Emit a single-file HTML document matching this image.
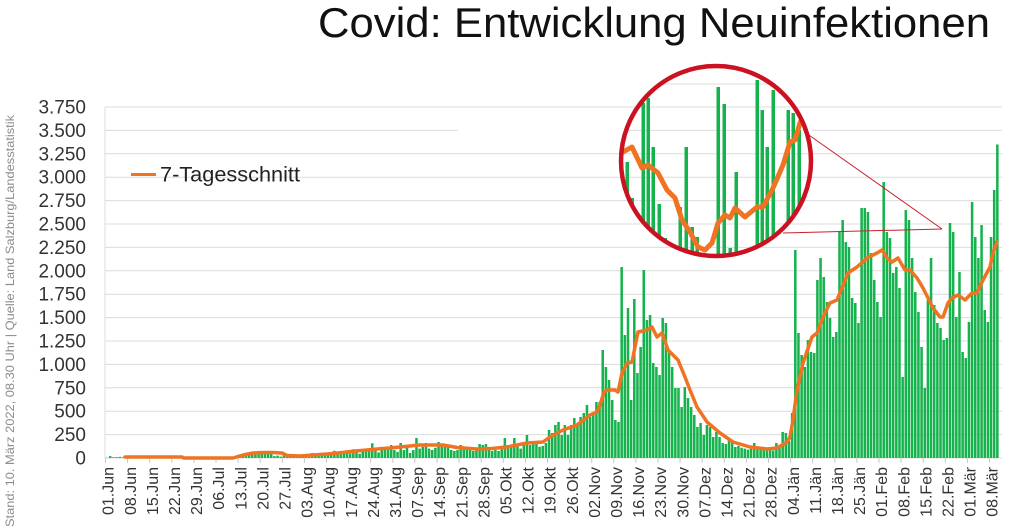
<!DOCTYPE html>
<html><head><meta charset="utf-8"><style>
html,body{margin:0;padding:0;background:#fff;}
svg{display:block;}
</style></head><body>
<svg width="1016" height="530" viewBox="0 0 1016 530" xmlns="http://www.w3.org/2000/svg">
<rect width="1016" height="530" fill="#fff"/>
<!-- title -->
<text x="318" y="37" font-family="Liberation Sans, sans-serif" font-size="42" fill="#111" textLength="672" lengthAdjust="spacingAndGlyphs">Covid: Entwicklung Neuinfektionen</text>
<!-- source vertical -->
<text transform="translate(14,527) rotate(-90)" font-family="Liberation Sans, sans-serif" font-size="12" fill="#8c8c8c" textLength="412" lengthAdjust="spacingAndGlyphs">Stand: 10. März  2022, 08.30 Uhr  |  Quelle: Land Salzburg/Landesstatistik</text>
<!-- gridlines -->
<g stroke="#dcdcdc" stroke-width="1">
<line x1="105" y1="107" x2="1002" y2="107"/>
<line x1="105" y1="130.4" x2="458" y2="130.4"/>
<line x1="812" y1="130.4" x2="1002" y2="130.4"/>
<line x1="105" y1="153.8" x2="1002" y2="153.8"/>
<line x1="105" y1="177.2" x2="1002" y2="177.2"/>
<line x1="105" y1="200.6" x2="1002" y2="200.6"/>
<line x1="105" y1="224" x2="1002" y2="224"/>
<line x1="105" y1="247.4" x2="1002" y2="247.4"/>
<line x1="105" y1="270.8" x2="1002" y2="270.8"/>
<line x1="105" y1="294.2" x2="1002" y2="294.2"/>
<line x1="105" y1="317.6" x2="1002" y2="317.6"/>
<line x1="105" y1="341" x2="1002" y2="341"/>
<line x1="105" y1="364.4" x2="1002" y2="364.4"/>
<line x1="105" y1="387.8" x2="1002" y2="387.8"/>
<line x1="105" y1="411.2" x2="1002" y2="411.2"/>
<line x1="105" y1="434.6" x2="1002" y2="434.6"/>
<line x1="105" y1="458" x2="1002" y2="458"/>
<line x1="105" y1="107" x2="105" y2="458"/>
</g>
<!-- y labels -->
<g font-family="Liberation Sans, sans-serif" font-size="19" fill="#333" text-anchor="end">
<text x="86" y="113.5">3.750</text>
<text x="86" y="136.9">3.500</text>
<text x="86" y="160.3">3.250</text>
<text x="86" y="183.7">3.000</text>
<text x="86" y="207.1">2.750</text>
<text x="86" y="230.5">2.500</text>
<text x="86" y="253.9">2.250</text>
<text x="86" y="277.3">2.000</text>
<text x="86" y="300.7">1.750</text>
<text x="86" y="324.1">1.500</text>
<text x="86" y="347.5">1.250</text>
<text x="86" y="370.9">1.000</text>
<text x="86" y="394.3">750</text>
<text x="86" y="417.7">500</text>
<text x="86" y="441.1">250</text>
<text x="86" y="464.5">0</text>
</g>
<!-- ticks -->
<path stroke="#c8c8c8" stroke-width="1" fill="none" d="M105.5 458v5M127.6 458v5M149.7 458v5M171.8 458v5M193.9 458v5M216 458v5M238.1 458v5M260.2 458v5M282.3 458v5M304.4 458v5M326.5 458v5M348.6 458v5M370.7 458v5M392.8 458v5M414.9 458v5M437 458v5M459.1 458v5M481.2 458v5M503.3 458v5M525.4 458v5M547.5 458v5M569.6 458v5M591.7 458v5M613.8 458v5M635.9 458v5M658 458v5M680.1 458v5M702.2 458v5M724.3 458v5M746.4 458v5M768.5 458v5M790.6 458v5M812.7 458v5M834.8 458v5M856.9 458v5M879 458v5M901.1 458v5M923.2 458v5M945.3 458v5M967.4 458v5M989.5 458v5"/>
<!-- bars -->
<g transform="translate(105.5,458) scale(3.157,-0.0936)">
<path fill="#16b24d" d="M0.1 0V3h.8V0zM1.1 0V20h.8V0zM2.1 0V8h.8V0zM3.1 0V10h.8V0zM4.1 0V12h.8V0zM5.1 0V8h.8V0zM6.1 0V6h.8V0zM7.1 0V10h.8V0zM8.1 0V12h.8V0zM9.1 0V8h.8V0zM10.1 0V10h.8V0zM11.1 0V14h.8V0zM12.1 0V9h.8V0zM13.1 0V7h.8V0zM14.1 0V12h.8V0zM15.1 0V15h.8V0zM16.1 0V10h.8V0zM17.1 0V8h.8V0zM18.1 0V12h.8V0zM19.1 0V9h.8V0zM20.1 0V6h.8V0zM21.1 0V8h.8V0zM22.1 0V5h.8V0zM23.1 0V4h.8V0zM24.1 0V3h.8V0zM25.1 0V5h.8V0zM26.1 0V4h.8V0zM27.1 0V3h.8V0zM28.1 0V3h.8V0zM29.1 0V4h.8V0zM30.1 0V3h.8V0zM31.1 0V4h.8V0zM32.1 0V3h.8V0zM33.1 0V2h.8V0zM34.1 0V3h.8V0zM35.1 0V4h.8V0zM36.1 0V3h.8V0zM37.1 0V5h.8V0zM38.1 0V6h.8V0zM39.1 0V8h.8V0zM40.1 0V10h.8V0zM41.1 0V12h.8V0zM42.1 0V15h.8V0zM43.1 0V25h.8V0zM44.1 0V40h.8V0zM45.1 0V45h.8V0zM46.1 0V43h.8V0zM47.1 0V50h.8V0zM48.1 0V64h.8V0zM49.1 0V55h.8V0zM50.1 0V68h.8V0zM51.1 0V60h.8V0zM52.1 0V45h.8V0zM53.1 0V20h.8V0zM54.1 0V25h.8V0zM55.1 0V15h.8V0zM56.1 0V30h.8V0zM57.1 0V25h.8V0zM58.1 0V20h.8V0zM59.1 0V15h.8V0zM60.1 0V25h.8V0zM61.1 0V20h.8V0zM62.1 0V30h.8V0zM63.1 0V25h.8V0zM64.1 0V35h.8V0zM65.1 0V53h.8V0zM66.1 0V30h.8V0zM67.1 0V25h.8V0zM68.1 0V40h.8V0zM69.1 0V45h.8V0zM70.1 0V35h.8V0zM71.1 0V50h.8V0zM72.1 0V78h.8V0zM73.1 0V45h.8V0zM74.1 0V40h.8V0zM75.1 0V60h.8V0zM76.1 0V55h.8V0zM77.1 0V50h.8V0zM78.1 0V93h.8V0zM79.1 0V60h.8V0zM80.1 0V45h.8V0zM81.1 0V70h.8V0zM82.1 0V85h.8V0zM83.1 0V90h.8V0zM84.1 0V157h.8V0zM85.1 0V80h.8V0zM86.1 0V60h.8V0zM87.1 0V85h.8V0zM88.1 0V100h.8V0zM89.1 0V110h.8V0zM90.1 0V139h.8V0zM91.1 0V85h.8V0zM92.1 0V64h.8V0zM93.1 0V160h.8V0zM94.1 0V85h.8V0zM95.1 0V118h.8V0zM96.1 0V53h.8V0zM97.1 0V85h.8V0zM98.1 0V214h.8V0zM99.1 0V100h.8V0zM100.1 0V120h.8V0zM101.1 0V160h.8V0zM102.1 0V100h.8V0zM103.1 0V85h.8V0zM104.1 0V110h.8V0zM105.1 0V171h.8V0zM106.1 0V150h.8V0zM107.1 0V140h.8V0zM108.1 0V130h.8V0zM109.1 0V85h.8V0zM110.1 0V75h.8V0zM111.1 0V85h.8V0zM112.1 0V139h.8V0zM113.1 0V100h.8V0zM114.1 0V90h.8V0zM115.1 0V85h.8V0zM116.1 0V75h.8V0zM117.1 0V110h.8V0zM118.1 0V150h.8V0zM119.1 0V139h.8V0zM120.1 0V150h.8V0zM121.1 0V100h.8V0zM122.1 0V75h.8V0zM123.1 0V85h.8V0zM124.1 0V75h.8V0zM125.1 0V130h.8V0zM126.1 0V214h.8V0zM127.1 0V139h.8V0zM128.1 0V128h.8V0zM129.1 0V214h.8V0zM130.1 0V128h.8V0zM131.1 0V100h.8V0zM132.1 0V139h.8V0zM133.1 0V246h.8V0zM134.1 0V139h.8V0zM135.1 0V171h.8V0zM136.1 0V150h.8V0zM137.1 0V120h.8V0zM138.1 0V128h.8V0zM139.1 0V160h.8V0zM140.1 0V299h.8V0zM141.1 0V267h.8V0zM142.1 0V353h.8V0zM143.1 0V385h.8V0zM144.1 0V246h.8V0zM145.1 0V353h.8V0zM146.1 0V246h.8V0zM147.1 0V353h.8V0zM148.1 0V427h.8V0zM149.1 0V353h.8V0zM150.1 0V438h.8V0zM151.1 0V481h.8V0zM152.1 0V566h.8V0zM153.1 0V438h.8V0zM154.1 0V459h.8V0zM155.1 0V598h.8V0zM156.1 0V598h.8V0zM157.1 0V1154h.8V0zM158.1 0V972h.8V0zM159.1 0V833h.8V0zM160.1 0V620h.8V0zM161.1 0V406h.8V0zM162.1 0V385h.8V0zM163.1 0V2040h.8V0zM164.1 0V1314h.8V0zM165.1 0V1602h.8V0zM166.1 0V620h.8V0zM167.1 0V1699h.8V0zM168.1 0V908h.8V0zM169.1 0V1186h.8V0zM170.1 0V2008h.8V0zM171.1 0V1474h.8V0zM172.1 0V1528h.8V0zM173.1 0V1015h.8V0zM174.1 0V972h.8V0zM175.1 0V887h.8V0zM176.1 0V1496h.8V0zM177.1 0V1442h.8V0zM178.1 0V1154h.8V0zM179.1 0V972h.8V0zM180.1 0V748h.8V0zM181.1 0V748h.8V0zM182.1 0V545h.8V0zM183.1 0V758h.8V0zM184.1 0V641h.8V0zM185.1 0V545h.8V0zM186.1 0V459h.8V0zM187.1 0V331h.8V0zM188.1 0V374h.8V0zM189.1 0V246h.8V0zM190.1 0V353h.8V0zM191.1 0V331h.8V0zM192.1 0V224h.8V0zM193.1 0V278h.8V0zM194.1 0V224h.8V0zM195.1 0V160h.8V0zM196.1 0V150h.8V0zM197.1 0V214h.8V0zM198.1 0V170h.8V0zM199.1 0V118h.8V0zM200.1 0V130h.8V0zM201.1 0V110h.8V0zM202.1 0V100h.8V0zM203.1 0V90h.8V0zM204.1 0V100h.8V0zM205.1 0V160h.8V0zM206.1 0V110h.8V0zM207.1 0V95h.8V0zM208.1 0V110h.8V0zM209.1 0V100h.8V0zM210.1 0V85h.8V0zM211.1 0V80h.8V0zM212.1 0V160h.8V0zM213.1 0V110h.8V0zM214.1 0V278h.8V0zM215.1 0V267h.8V0zM216.1 0V180h.8V0zM217.1 0V481h.8V0zM218.1 0V2222h.8V0zM219.1 0V1335h.8V0zM220.1 0V1100h.8V0zM221.1 0V972h.8V0zM222.1 0V1261h.8V0zM223.1 0V1132h.8V0zM224.1 0V1122h.8V0zM225.1 0V1902h.8V0zM226.1 0V2137h.8V0zM227.1 0V1934h.8V0zM228.1 0V1667h.8V0zM229.1 0V1496h.8V0zM230.1 0V1293h.8V0zM231.1 0V1346h.8V0zM232.1 0V2414h.8V0zM233.1 0V2543h.8V0zM234.1 0V2308h.8V0zM235.1 0V2254h.8V0zM236.1 0V1709h.8V0zM237.1 0V1656h.8V0zM238.1 0V1442h.8V0zM239.1 0V2671h.8V0zM240.1 0V2671h.8V0zM241.1 0V2628h.8V0zM242.1 0V2190h.8V0zM243.1 0V1902h.8V0zM244.1 0V1667h.8V0zM245.1 0V1506h.8V0zM246.1 0V2949h.8V0zM247.1 0V2414h.8V0zM248.1 0V2350h.8V0zM249.1 0V1976h.8V0zM250.1 0V2040h.8V0zM251.1 0V1816h.8V0zM252.1 0V865h.8V0zM253.1 0V2650h.8V0zM254.1 0V2543h.8V0zM255.1 0V2137h.8V0zM256.1 0V1773h.8V0zM257.1 0V1560h.8V0zM258.1 0V1186h.8V0zM259.1 0V748h.8V0zM260.1 0V1688h.8V0zM261.1 0V2137h.8V0zM262.1 0V1635h.8V0zM263.1 0V1442h.8V0zM264.1 0V1389h.8V0zM265.1 0V1261h.8V0zM266.1 0V1282h.8V0zM267.1 0V2511h.8V0zM268.1 0V2414h.8V0zM269.1 0V1506h.8V0zM270.1 0V1987h.8V0zM271.1 0V1132h.8V0zM272.1 0V1068h.8V0zM273.1 0V1453h.8V0zM274.1 0V2735h.8V0zM275.1 0V2361h.8V0zM276.1 0V2137h.8V0zM277.1 0V2489h.8V0zM278.1 0V1581h.8V0zM279.1 0V1453h.8V0zM280.1 0V2361h.8V0zM281.1 0V2863h.8V0zM282.1 0V3350h.8V0z"/>
</g>
<!-- 7-day average -->
<polyline fill="none" stroke="#ef7323" stroke-width="3.5" stroke-linejoin="round" stroke-linecap="round" points="125,457 182,457 184,458 233,458 243,455 253,453 263,452.5 273,452.5 282,453 287,455.5 300,456 313,455 327,454 340,452.7 353,451.3 367,450 380,448.7 390,448 405,446.5 420,445 443,445 457,447.5 477,449 492,448.5 507,447 527,443 543,442 550,437 563,430 577,425 590,415 597,412 600,405 604,392 607,390 615,390 618,392 622,373 627,363 632,362 635,347 638,332 647,330 652,327 657,337 662,333 668,350 678,360 685,377 690,390 697,407 707,422 720,433 733,442 750,447 767,449 777,448 787,442 790,437 793,420 797,390 800,377 803,363 812,337 817,333 823,317 830,303 837,300 848,273 857,267 867,258 877,253 882,250 887,258 892,262 898,258 905,270 910,270 917,278 923,288 928,298 933,308 940,317 943,317 948,303 952,298 958,295 965,300 972,293 977,293 983,280 990,267 993,253 997,242"/>
<!-- legend -->
<line x1="131" y1="174.5" x2="156" y2="174.5" stroke="#ef7323" stroke-width="3"/>
<text x="160" y="181.5" font-family="Liberation Sans, sans-serif" font-size="21" fill="#222" textLength="140" lengthAdjust="spacingAndGlyphs">7-Tagesschnitt</text>
<!-- x labels -->
<g font-family="Liberation Sans, sans-serif" font-size="16" fill="#333" text-anchor="end">
<text transform="translate(113.7,467) rotate(-90)">01.Jun</text>
<text transform="translate(135.8,467) rotate(-90)">08.Jun</text>
<text transform="translate(157.9,467) rotate(-90)">15.Jun</text>
<text transform="translate(180,467) rotate(-90)">22.Jun</text>
<text transform="translate(202.1,467) rotate(-90)">29.Jun</text>
<text transform="translate(224.2,467) rotate(-90)">06.Jul</text>
<text transform="translate(246.3,467) rotate(-90)">13.Jul</text>
<text transform="translate(268.4,467) rotate(-90)">20.Jul</text>
<text transform="translate(290.5,467) rotate(-90)">27.Jul</text>
<text transform="translate(312.6,467) rotate(-90)">03.Aug</text>
<text transform="translate(334.7,467) rotate(-90)">10.Aug</text>
<text transform="translate(356.8,467) rotate(-90)">17.Aug</text>
<text transform="translate(378.9,467) rotate(-90)">24.Aug</text>
<text transform="translate(401,467) rotate(-90)">31.Aug</text>
<text transform="translate(423.1,467) rotate(-90)">07.Sep</text>
<text transform="translate(445.2,467) rotate(-90)">14.Sep</text>
<text transform="translate(467.3,467) rotate(-90)">21.Sep</text>
<text transform="translate(489.4,467) rotate(-90)">28.Sep</text>
<text transform="translate(511.5,467) rotate(-90)">05.Okt</text>
<text transform="translate(533.6,467) rotate(-90)">12.Okt</text>
<text transform="translate(555.7,467) rotate(-90)">19.Okt</text>
<text transform="translate(577.8,467) rotate(-90)">26.Okt</text>
<text transform="translate(599.9,467) rotate(-90)">02.Nov</text>
<text transform="translate(622,467) rotate(-90)">09.Nov</text>
<text transform="translate(644.1,467) rotate(-90)">16.Nov</text>
<text transform="translate(666.2,467) rotate(-90)">23.Nov</text>
<text transform="translate(688.3,467) rotate(-90)">30.Nov</text>
<text transform="translate(710.4,467) rotate(-90)">07.Dez</text>
<text transform="translate(732.5,467) rotate(-90)">14.Dez</text>
<text transform="translate(754.6,467) rotate(-90)">21.Dez</text>
<text transform="translate(776.7,467) rotate(-90)">28.Dez</text>
<text transform="translate(798.8,467) rotate(-90)">04.Jän</text>
<text transform="translate(820.9,467) rotate(-90)">11.Jän</text>
<text transform="translate(843,467) rotate(-90)">18.Jän</text>
<text transform="translate(865.1,467) rotate(-90)">25.Jän</text>
<text transform="translate(887.2,467) rotate(-90)">01.Feb</text>
<text transform="translate(909.3,467) rotate(-90)">08.Feb</text>
<text transform="translate(931.4,467) rotate(-90)">15.Feb</text>
<text transform="translate(953.5,467) rotate(-90)">22.Feb</text>
<text transform="translate(975.6,467) rotate(-90)">01.Mär</text>
<text transform="translate(997.7,467) rotate(-90)">08.Mär</text>
</g>
<!-- zoom connector lines -->
<g stroke="#c8202c" stroke-width="1" fill="none">
<line x1="806" y1="133" x2="942" y2="229"/>
<line x1="783" y1="233" x2="942" y2="229"/>
</g>
<!-- inset circle -->
<defs><clipPath id="cc"><circle cx="716" cy="161" r="94"/></clipPath></defs>
<circle cx="716" cy="161" r="95" fill="#fff"/>
<g clip-path="url(#cc)">
<g stroke="#dcdcdc" stroke-width="1">
<line x1="600" y1="84" x2="830" y2="84"/>
<line x1="600" y1="107" x2="830" y2="107"/>
<line x1="600" y1="130.4" x2="830" y2="130.4"/>
<line x1="600" y1="153.8" x2="830" y2="153.8"/>
<line x1="600" y1="177.2" x2="830" y2="177.2"/>
<line x1="600" y1="200.6" x2="830" y2="200.6"/>
<line x1="600" y1="224" x2="830" y2="224"/>
<line x1="600" y1="247.4" x2="830" y2="247.4"/>
</g>
<g fill="#16b24d">
<rect x="625.5" y="162" width="3.5" height="110"/>
<rect x="630.5" y="198" width="3.5" height="80"/>
<rect x="641.5" y="103" width="3.5" height="170"/>
<rect x="646.5" y="98" width="3.5" height="170"/>
<rect x="651.5" y="147" width="3.5" height="130"/>
<rect x="657.5" y="204" width="3.5" height="80"/>
<rect x="663.5" y="238" width="3.5" height="50"/>
<rect x="678.5" y="207" width="3.5" height="80"/>
<rect x="684.5" y="147" width="3.5" height="140"/>
<rect x="690.5" y="227" width="3.5" height="60"/>
<rect x="695.5" y="237" width="3.5" height="50"/>
<rect x="716.5" y="87" width="3.5" height="200"/>
<rect x="722.5" y="104" width="3.5" height="180"/>
<rect x="728.5" y="248" width="3.5" height="40"/>
<rect x="734.5" y="172" width="3.5" height="110"/>
<rect x="755.5" y="80" width="3.5" height="200"/>
<rect x="760.5" y="110" width="3.5" height="170"/>
<rect x="765.5" y="147" width="3.5" height="130"/>
<rect x="771.5" y="90" width="3.5" height="190"/>
<rect x="786.5" y="110" width="3.5" height="170"/>
<rect x="791.5" y="113" width="3.5" height="170"/>
<rect x="797.5" y="130" width="3.5" height="150"/>
</g>
<polyline fill="none" stroke="#ef7323" stroke-width="5" stroke-linejoin="round" stroke-linecap="round" points="614,154 623,152 632,147 642,168 648,165 658,173 667,190 675,198 682,220 690,232 698,247 705,250 712,243 718,223 725,215 730,218 735,208 745,217 757,207 763,207 773,188 783,165 790,142 795,140 800,123 808,105"/>
</g>
<circle cx="716" cy="161" r="95" fill="none" stroke="#cc1122" stroke-width="4.5"/>
</svg>
</body></html>
